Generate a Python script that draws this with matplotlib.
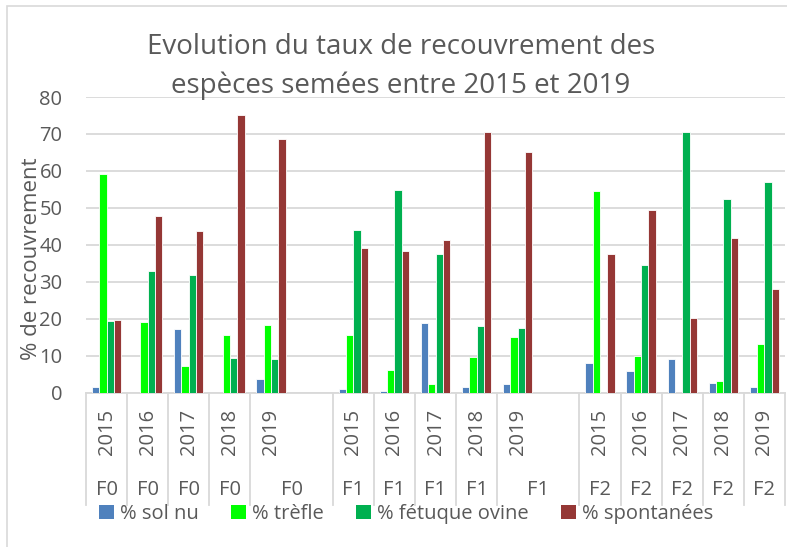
import matplotlib
matplotlib.use("Agg")
import matplotlib.pyplot as plt
import matplotlib.transforms as mtransforms
from matplotlib.patches import Rectangle, Patch
from matplotlib.lines import Line2D

plt.rcParams['font.family'] = ['Open Sans', 'DejaVu Sans']

# data
sites = ["F0", "F1", "F2"]
years = ["2015", "2016", "2017", "2018", "2019"]
series = ["% sol nu", "% trèfle", "% fétuque ovine", "% spontanées"]
sol_nu = [1.6, 0, 17.1, 0, 3.8,
          1.1, 0.4, 18.8, 1.6, 2.4,
          8.0, 5.9, 9.1, 2.7, 1.5]
trefle = [59.3, 19.1, 7.1, 15.5, 18.2,
          15.7, 6.1, 2.3, 9.6, 15.1,
          54.6, 10.0, 0, 3.1, 13.2]
fetuque = [19.4, 32.9, 31.8, 9.4, 9.2,
           44.0, 54.8, 37.5, 18.1, 17.6,
           0, 34.5, 70.5, 52.4, 57.1]
spontanees = [19.6, 47.9, 43.7, 75.0, 68.6,
              39.1, 38.3, 41.3, 70.5, 65.0,
              37.5, 49.5, 20.2, 41.9, 28.1]
colors = ["#4F81BD", "#00FF00", "#00B050", "#953735"]

W, H = 787, 547
grey = "#595959"
grid = "#D9D9D9"

def fy(px):
    return 1 - px / H

fig = plt.figure(figsize=(W / 100, H / 100), dpi=100)
fig.patches.append(Rectangle((7 / W, fy(600)), 1.0, fy(6) - fy(600), transform=fig.transFigure,
                             fill=False, edgecolor=grid, linewidth=1.2))

ax = fig.add_axes([86 / W, fy(392.7), (785 - 86) / W, fy(97) - fy(392.7)])

# one blank slot after each site group except the last
pos = []
i = 0
for s in range(len(sites)):
    for y in range(len(years)):
        pos.append(i)
        i += 1
    i += 1
n_slots = i - 1

step = 0.178
offs = [-1.5 * step, -0.5 * step, 0.5 * step, 1.5 * step]
for vals, c, off in zip([sol_nu, trefle, fetuque, spontanees], colors, offs):
    ax.bar([p + off for p in pos], vals, width=step, color=c, edgecolor="white",
           linewidth=0.6, zorder=3)

ax.set_xlim(-0.5, n_slots - 0.5)
ax.set_ylim(0, 80)
ax.set_yticks(range(0, 81, 10))
ax.yaxis.grid(True, color=grid, linewidth=1.3, zorder=0)
ax.tick_params(axis="y", length=0, labelsize=14.5, labelcolor=grey, pad=17)
ax.set_xticks([])
for sp in ["top", "right", "left"]:
    ax.spines[sp].set_visible(False)
ax.spines["bottom"].set_color(grid)
ax.spines["bottom"].set_linewidth(1.3)

# y label overlaps the tick labels, as in the original
fig.text(32 / W, fy(259), "% de recouvrement", rotation=90,
         ha="center", va="center", fontsize=16, color=grey)

fig.text(401 / W, fy(47), "Evolution du taux de recouvrement des", ha="center", va="center",
         fontsize=20, color=grey)
fig.text(401 / W, fy(86), "espèces semées entre 2015 et 2019", ha="center", va="center",
         fontsize=20, color=grey)

# multi-level category axis
tr = mtransforms.blended_transform_factory(ax.transData, fig.transFigure)
k = 0
for s, site in enumerate(sites):
    for y, yr in enumerate(years):
        p = pos[k]
        ax.text(p, fy(432), yr, transform=tr, rotation=90, ha="center", va="center",
                fontsize=14.5, color=grey)
        last = (y == len(years) - 1) and s < len(sites) - 1
        cx = p + 0.5 if last else p
        ax.text(cx, fy(490), site, transform=tr, ha="center", va="center",
                fontsize=14.5, color=grey)
        k += 1

bounds = [-0.5]
for k, p in enumerate(pos):
    if k % len(years) == len(years) - 1 and p + 1 < n_slots:
        bounds.append(p + 1.5)
    else:
        bounds.append(p + 0.5)
for b in bounds:
    ax.add_line(Line2D([b, b], [fy(393), fy(505)], transform=tr, color=grid,
                       linewidth=1.3, clip_on=False))

handles = [Patch(facecolor=c, edgecolor="none") for c in colors]
fig.legend(handles, series, loc="center", bbox_to_anchor=(406 / W, fy(514)), ncol=4,
           frameon=False, fontsize=14.5, handlelength=0.75, handleheight=0.75,
           handletextpad=0.3, columnspacing=1.6, labelcolor=grey, borderaxespad=0)

fig.savefig("out.png", dpi=100)
